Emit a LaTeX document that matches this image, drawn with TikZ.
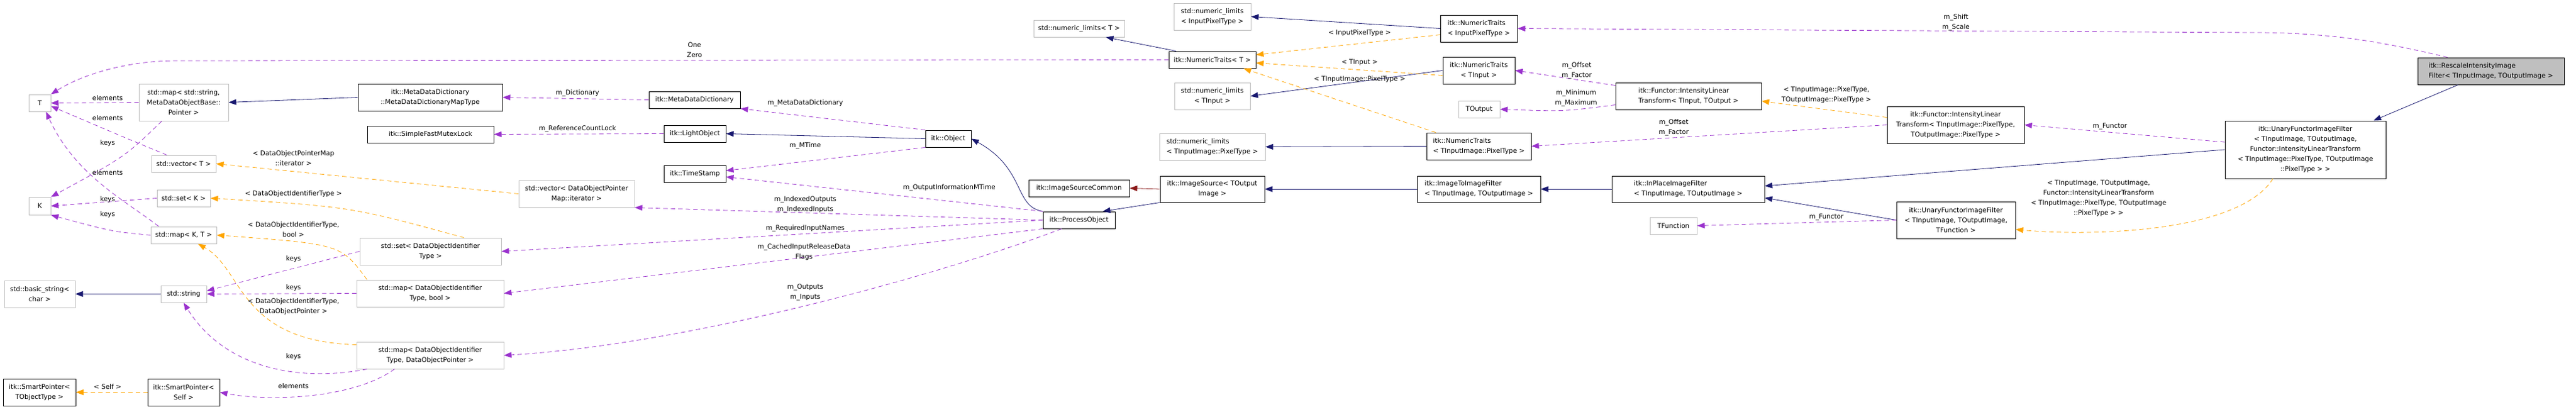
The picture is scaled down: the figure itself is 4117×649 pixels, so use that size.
\documentclass[tikz,border=0pt]{standalone}
\usepackage{fontspec}
\setmainfont{DejaVu Sans}
\usetikzlibrary{arrows.meta}
\definecolor{inhcol}{HTML}{191970}
\definecolor{usecol}{HTML}{9A32CD}
\definecolor{tplcol}{HTML}{FFA500}
\definecolor{privcol}{HTML}{8B1A1A}
\begin{document}
\begin{tikzpicture}[x=1pt,y=-1pt,font=\fontsize{10.5}{16}\selectfont]
                \tikzstyle{cls}=[draw=black,line width=1pt,inner sep=0pt,align=center]
                \tikzstyle{ext}=[draw=black!25,line width=1pt,inner sep=0pt,align=center]
                \tikzstyle{main}=[cls,fill=black!25]
                \tikzstyle{lbl}=[inner sep=0pt,align=center]
                \tikzstyle{inh}=[draw=inhcol,line width=0.8pt,-{Triangle[length=12pt,width=9pt]}]
                \tikzstyle{priv}=[inh,draw=privcol]
                \tikzstyle{use}=[draw=usecol,line width=0.8pt,dash pattern=on 7pt off 5pt,-{Triangle[length=12pt,width=9pt]}]
                \tikzstyle{tpl}=[use,draw=tplcol]
                \useasboundingbox (0,0) rectangle (4117,649);
                % left block
                \node(T)[ext,minimum width=35,minimum height=27] at (63.5,164.5){T};
                \node(K)[ext,minimum width=35,minimum height=28] at (63.5,329){K};
                \node(mapstr)[ext,minimum width=143,minimum height=59] at (293.5,163.5){std::map< std::string,\\MetaDataObjectBase::\\Pointer >};
                \node(vecT)[ext,minimum width=103,minimum height=27] at (293.5,261.5){std::vector< T >};
                \node(setK)[ext,minimum width=85,minimum height=27] at (293.5,316.5){std::set< K >};
                \node(mapKT)[ext,minimum width=105,minimum height=27] at (293.5,375.5){std::map< K, T >};
                \node(bstr)[ext,minimum width=113,minimum height=43] at (63.5,469.5){std::basic\_string<\\char >};
                \node(str)[ext,minimum width=73,minimum height=27] at (293.5,469.5){std::string};
                \node(spT)[cls,minimum width=116,minimum height=43] at (63,626.5){itk::SmartPointer<\\TObjectType >};
                \node(spS)[cls,minimum width=115,minimum height=43] at (293.5,626.5){itk::SmartPointer<\\Self >};
                \node(mdmap)[cls,minimum width=231,minimum height=43] at (687.5,155.5){itk::MetaDataDictionary\\::MetaDataDictionaryMapType};
                \node(mutex)[cls,minimum width=202,minimum height=27] at (688,214.5){itk::SimpleFastMutexLock};
                \node(setID)[ext,minimum width=226,minimum height=43] at (688,401.5){std::set< DataObjectIdentifier\\Type >};
                \node(mapbool)[ext,minimum width=235,minimum height=43] at (687.5,468.5){std::map< DataObjectIdentifier\\Type, bool >};
                \node(mapdop)[ext,minimum width=235,minimum height=43] at (687.5,567.5){std::map< DataObjectIdentifier\\Type, DataObjectPointer >};
                \node(vecit)[ext,minimum width=185,minimum height=43] at (921.5,309.5){std::vector< DataObjectPointer\\Map::iterator >};
                \node(mdd)[cls,minimum width=146,minimum height=27] at (1110,159.5){itk::MetaDataDictionary};
                \node(light)[cls,minimum width=99,minimum height=27] at (1110.5,213.5){itk::LightObject};
                \node(tstamp)[cls,minimum width=99,minimum height=27] at (1110.5,277.5){itk::TimeStamp};
                % middle block
                \node(obj)[cls,minimum width=73,minimum height=27] at (1515.5,221.5){itk::Object};
                \node(nlT)[ext,minimum width=145,minimum height=27] at (1724.5,45.5){std::numeric\_limits< T >};
                \node(isc)[cls,minimum width=161,minimum height=27] at (1724.5,300.5){itk::ImageSourceCommon};
                \node(po)[cls,minimum width=115,minimum height=27] at (1724.5,351.5){itk::ProcessObject};
                \node(nlIP)[ext,minimum width=123,minimum height=43] at (1937.5,26.5){std::numeric\_limits\\< InputPixelType >};
                \node(ntT)[cls,minimum width=139,minimum height=27] at (1937.5,95.5){itk::NumericTraits< T >};
                \node(nlTin)[ext,minimum width=121,minimum height=43] at (1937.5,153.5){std::numeric\_limits\\< TInput >};
                \node(nlPix)[ext,minimum width=169,minimum height=43,align=left] at (1937.5,234.5){std::numeric\_limits\\< TInputImage::PixelType >};
                \node(isrc)[cls,minimum width=167,minimum height=42] at (1937.5,302){itk::ImageSource< TOutput\\Image >};
                \node(ntIP)[cls,minimum width=123,minimum height=43,align=left] at (2363.5,45.5){itk::NumericTraits\\< InputPixelType >};
                \node(ntTin)[cls,minimum width=115,minimum height=43] at (2363.5,112.5){itk::NumericTraits\\< TInput >};
                \node(tout)[ext,minimum width=66,minimum height=27] at (2364,174.5){TOutput};
                \node(ntPix)[cls,minimum width=167,minimum height=43,align=left] at (2363.5,233.5){itk::NumericTraits\\< TInputImage::PixelType >};
                \node(i2i)[cls,minimum width=197,minimum height=42,align=left] at (2363.5,302){itk::ImageToImageFilter\\< TInputImage, TOutputImage >};
                % right block
                \node(iltIO)[cls,minimum width=233,minimum height=43,align=left] at (2698.5,153.5){itk::Functor::IntensityLinear\\Transform< TInput, TOutput >};
                \node(inplace)[cls,minimum width=244,minimum height=42,align=left] at (2698,302){itk::InPlaceImageFilter\\< TInputImage, TOutputImage >};
                \node(tfun)[ext,minimum width=75,minimum height=27] at (2674.5,360.5){TFunction};
                \node(iltPix)[cls,minimum width=219,minimum height=59] at (3125.5,199.5){itk::Functor::IntensityLinear\\Transform< TInputImage::PixelType,\\TOutputImage::PixelType >};
                \node(ufTF)[cls,minimum width=190,minimum height=59] at (3126,351.5){itk::UnaryFunctorImageFilter\\< TInputImage, TOutputImage,\\TFunction >};
                \node(ufBig)[cls,minimum width=257,minimum height=92] at (3684.5,239){itk::UnaryFunctorImageFilter\\< TInputImage, TOutputImage,\\Functor::IntensityLinearTransform\\< TInputImage::PixelType, TOutputImage\\::PixelType > >};
                \node(resc)[main,minimum width=234,minimum height=43,align=left] at (3981,113.5){itk::RescaleIntensityImage\\Filter< TInputImage, TOutputImage >};
                % inheritance
                \draw[inh] (mdmap.west) -- (mapstr.east);
                \draw[inh] (str.west) -- (bstr.east);
                \draw[inh] (obj.west) -- (light.east);
                \draw[inh] (po.north west) .. controls (1620,330) and (1640,270) .. (obj.east);
                \draw[priv] (isrc.west) -- (isc.east);
                \draw[inh] (isrc.south west) -- ([xshift=-20pt]po.north east);
                \draw[inh] ([xshift=12pt]ntT.north west) -- ([xshift=-30pt]nlT.south east);
                \draw[inh] (ntIP.west) -- (nlIP.east);
                \draw[inh] (ntTin.west) -- (nlTin.east);
                \draw[inh] (ntPix.west) -- (nlPix.east);
                \draw[inh] (i2i.west) -- (isrc.east);
                \draw[inh] (inplace.west) -- (i2i.east);
                \draw[inh] (ufBig.west) -- ([yshift=5pt]inplace.east);
                \draw[inh] (ufTF.west) -- ([yshift=-14pt]inplace.east);
                \draw[inh] ([xshift=65pt]resc.south west) -- ([xshift=-20pt]ufBig.north east);
                % usage
                \draw[use] (mapstr.west) -- (T.east);
                \draw[use] ([xshift=25pt]vecT.north west) .. controls (200,220) .. ([yshift=-5pt]T.east);
                \draw[use] ([xshift=-40pt]mapKT.north) .. controls (200,320) and (120,280) .. ([xshift=10pt]T.south);
                \draw[use] ([xshift=37pt]mapstr.south west) .. controls (200,250) .. (K.north east);
                \draw[use] (setK.west) -- (K.east);
                \draw[use] (mapKT.west) .. controls (180,370) .. (K.south east);
                \draw[use] (ntT.west) -- (283,97) .. controls (200,97) and (130,120) .. (T.north east);
                \draw[use] (mdd.west) -- (mdmap.east);
                \draw[use] (light.west) -- (mutex.east);
                \draw[use] (obj.north west) -- (mdd.south east);
                \draw[use] (obj.south west) -- ([yshift=5pt]tstamp.east);
                \draw[use] (po.north west) -- ([yshift=-5pt]tstamp.east);
                \draw[use] (po.west) -- (vecit.south east);
                \draw[use] (po.west) -- (setID.east);
                \draw[use] (po.south west) -- (mapbool.east);
                \draw[use] ([xshift=30pt]po.south west) .. controls (1500,440) and (1100,550) .. (mapdop.east);
                \draw[use] (setID.west) -- ([yshift=5pt]str.east);
                \draw[use] (mapbool.west) -- (str.east);
                \draw[use] ([xshift=17pt]mapdop.south west) .. controls (480,610) and (360,590) .. (str.south);
                \draw[use] ([xshift=-57pt]mapdop.south) .. controls (560,640) and (420,640) .. (spS.east);
                \draw[use] ([yshift=-5pt]iltIO.north west) -- (ntTin.east);
                \draw[use] ([yshift=8pt]iltIO.south west) .. controls (2500,178) .. (tout.east);
                \draw[use] (iltPix.west) -- (ntPix.east);
                \draw[use] ([yshift=12pt]ufBig.west) -- (iltPix.east);
                \draw[use] (ufTF.west) -- (tfun.east);
                \draw[use] ([xshift=48pt]resc.north west) .. controls (3800,65) and (3720,52) .. (3600,52) -- (ntIP.east);
                % templates
                \draw[tpl] (vecit.west) -- (vecT.east);
                \draw[tpl] ([xshift=-60pt]setID.north east) .. controls (560,330) .. (setK.east);
                \draw[tpl] ([xshift=17pt]mapbool.north west) .. controls (545,390) .. (mapKT.east);
                \draw[tpl] ([yshift=-5pt]mapdop.north west) .. controls (380,545) and (390,430) .. ([xshift=23pt]mapKT.south);
                \draw[tpl] (spS.west) -- (spT.east);
                \draw[tpl] ([yshift=-10pt]ntIP.west) -- ([yshift=8pt]ntT.east);
                \draw[tpl] ([yshift=-8pt]ntTin.west) -- ([yshift=-5pt]ntT.east);
                \draw[tpl] ([xshift=15pt]ntPix.north west) -- ([xshift=-20pt]ntT.south east);
                \draw[tpl] ([yshift=12pt]iltPix.west) -- ([yshift=-8pt]iltIO.east);
                \draw[tpl] ([xshift=77pt]ufBig.south west) .. controls (3580,370) and (3350,378) .. ([yshift=-15pt]ufTF.east);
                % labels
                \node(l1)[lbl] at (172,157){elements};
                \node(l2)[lbl] at (172,189){elements};
                \node(l3)[lbl] at (172,229){keys};
                \node(l4)[lbl] at (172,276){elements};
                \node(l5)[lbl] at (172,319){keys};
                \node(l6)[lbl] at (172,343){keys};
                \node(l7)[lbl] at (469,253){< DataObjectPointerMap\\::iterator >};
                \node(l8)[lbl] at (469,310){< DataObjectIdentifierType >};
                \node(l9)[lbl] at (469,367){< DataObjectIdentifierType,\\bool >};
                \node(l10)[lbl] at (469,414){keys};
                \node(l11)[lbl] at (469,460){keys};
                \node(l12)[lbl] at (469,490){< DataObjectIdentifierType,\\DataObjectPointer >};
                \node(l13)[lbl] at (469,570){keys};
                \node(l14)[lbl] at (469,617){elements};
                \node(l15)[lbl] at (172,618){< Self >};
                \node(l16)[lbl] at (1110,80){One\\Zero};
                \node(l17)[lbl] at (923,149){m\_Dictionary};
                \node(l18)[lbl] at (923,206){m\_ReferenceCountLock};
                \node(l19)[lbl] at (1287,165){m\_MetaDataDictionary};
                \node(l20)[lbl] at (1287,233){m\_MTime};
                \node(l21)[lbl] at (1287,327){m\_IndexedOutputs\\m\_IndexedInputs};
                \node(l22)[lbl] at (1287,365){m\_RequiredInputNames};
                \node(l23)[lbl] at (1285,403){m\_CachedInputReleaseData\\Flags};
                \node(l24)[lbl] at (1287,467){m\_Outputs\\m\_Inputs};
                \node(l25)[lbl] at (1517,300){m\_OutputInformationMTime};
                \node(l26)[lbl] at (2173,53){< InputPixelType >};
                \node(l27)[lbl] at (2173,100){< TInput >};
                \node(l28)[lbl] at (2173,127){< TInputImage::PixelType >};
                \node(l29)[lbl] at (2520,113){m\_Offset\\m\_Factor};
                \node(l30)[lbl] at (2519,157){m\_Minimum\\m\_Maximum};
                \node(l31)[lbl] at (2675,204){m\_Offset\\m\_Factor};
                \node(l32)[lbl] at (2919,152){< TInputImage::PixelType,\\TOutputImage::PixelType >};
                \node(l33)[lbl] at (3372,202){m\_Functor};
                \node(l34)[lbl] at (2919,347){m\_Functor};
                \node(l35)[lbl] at (3354,317){< TInputImage, TOutputImage,\\Functor::IntensityLinearTransform\\< TInputImage::PixelType, TOutputImage\\::PixelType > >};
                \node(l36)[lbl] at (3126,36){m\_Shift\\m\_Scale};
\end{tikzpicture}
\end{document}
